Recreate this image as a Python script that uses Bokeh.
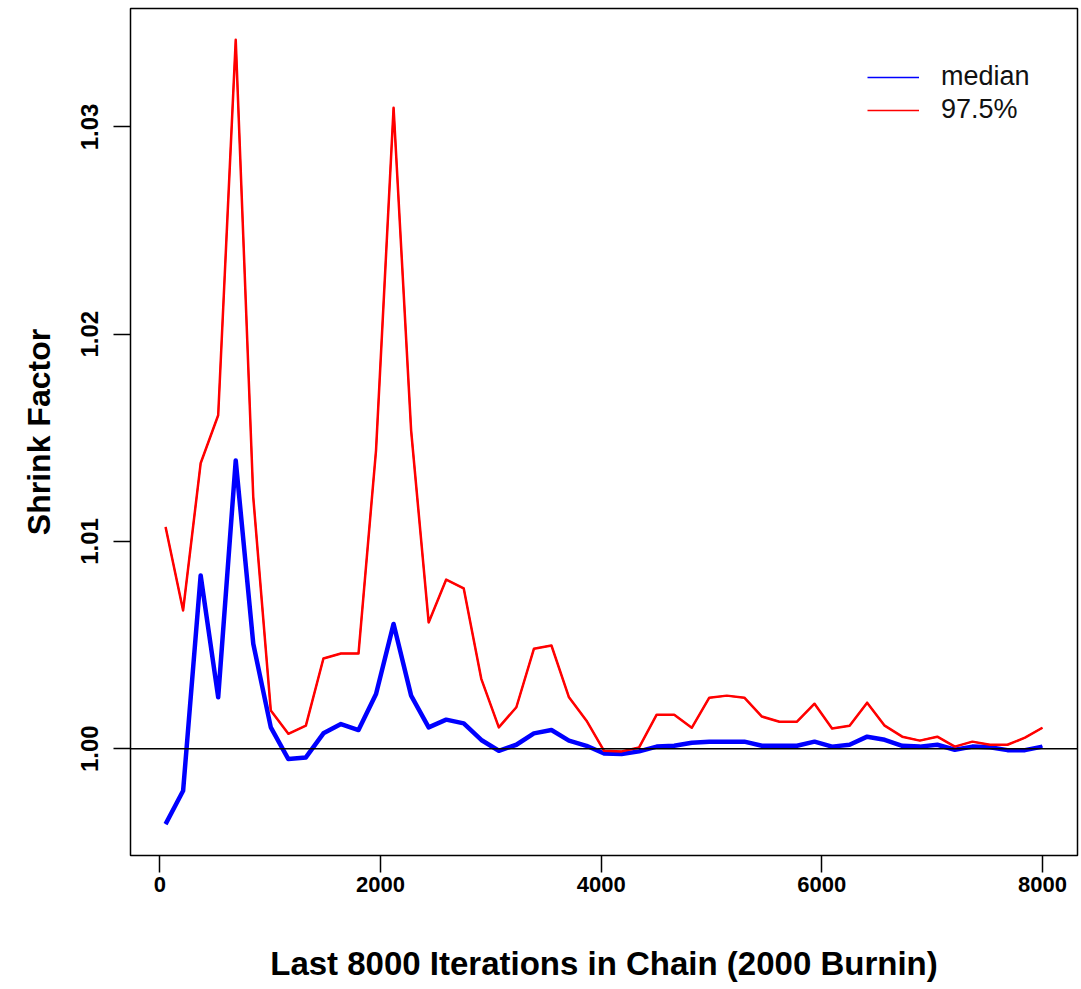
from bokeh.plotting import figure
from bokeh.models import Range1d, FixedTicker, PrintfTickFormatter, Span, Legend, LegendItem
from bokeh.embed import file_html
from bokeh.resources import INLINE

# ---- data ----
iterations = [51, 210, 369, 528, 687, 846, 1005, 1164, 1323, 1482, 1641, 1800, 1959,
              2118, 2277, 2436, 2595, 2754, 2913, 3072, 3231, 3390, 3549, 3708, 3867,
              4026, 4185, 4344, 4503, 4662, 4821, 4980, 5139, 5298, 5457, 5616, 5775,
              5934, 6093, 6252, 6411, 6570, 6729, 6888, 7047, 7206, 7365, 7524, 7683,
              7842, 8000]

median = [0.99636, 0.99797, 1.00836, 1.00248, 1.01391, 1.00506, 1.00103, 0.99950,
          0.99958, 1.00074, 1.00119, 1.00090, 1.00264, 1.00602, 1.00256, 1.00103,
          1.00140, 1.00122, 1.00042, 0.99990, 1.00019, 1.00074, 1.00090, 1.00039,
          1.00014, 0.99977, 0.99974, 0.99987, 1.00010, 1.00014, 1.00029, 1.00034,
          1.00034, 1.00034, 1.00014, 1.00014, 1.00014, 1.00034, 1.00010, 1.00019,
          1.00058, 1.00043, 1.00014, 1.00010, 1.00019, 0.99995, 1.00010, 1.00007,
          0.99993, 0.99993, 1.00010]

upper975 = [1.01070, 1.00667, 1.01377, 1.01609, 1.03420, 1.01213, 1.00184, 1.00072,
            1.00111, 1.00435, 1.00459, 1.00459, 1.01440, 1.03092, 1.01536, 1.00609,
            1.00816, 1.00773, 1.00337, 1.00103, 1.00200, 1.00482, 1.00498, 1.00248,
            1.00135, 0.99990, 0.99987, 1.00006, 1.00164, 1.00164, 1.00101, 1.00246,
            1.00256, 1.00246, 1.00155, 1.00130, 1.00130, 1.00217, 1.00097, 1.00111,
            1.00222, 1.00111, 1.00058, 1.00039, 1.00058, 1.00010, 1.00034, 1.00019,
            1.00019, 1.00053, 1.00101]

x_ticks = [0, 2000, 4000, 6000, 8000]
y_ticks = [1.00, 1.01, 1.02, 1.03]
series_labels = ["median", "97.5%"]
x_title = "Last 8000 Iterations in Chain (2000 Burnin)"
y_title = "Shrink Factor"

# R-style 4% range extension
xmin, xmax = min(iterations), max(iterations)
ymin, ymax = min(median + upper975), max(median + upper975)
xpad = 0.04 * (xmax - xmin)
ypad = 0.04 * (ymax - ymin)

FONT = "Liberation Sans"

p = figure(width=1081, height=989, output_backend="svg", toolbar_location=None,
           x_range=Range1d(xmin - xpad, xmax + xpad),
           y_range=Range1d(ymin - ypad, ymax + ypad),
           min_border_left=130, min_border_right=4, min_border_top=8,
           min_border_bottom=134)

p.background_fill_color = "white"
p.border_fill_color = "white"
p.xgrid.visible = False
p.ygrid.visible = False
p.outline_line_color = "black"
p.outline_line_width = 1.5

# thin copies (used as legend samples, hidden beneath the thick lines)
lb = p.line(iterations, median, line_color="#0000FF", line_width=1.5)
lr = p.line(iterations, upper975, line_color="#FF0000", line_width=1.5)

p.line(iterations, median, line_color="#0000FF", line_width=4.5, line_join="round")
p.line(iterations, upper975, line_color="#FF0000", line_width=2.5, line_join="round")

p.add_layout(Span(location=1.0, dimension="width", line_color="black", line_width=1.5))

# axes
for ax in (p.xaxis[0], p.yaxis[0]):
    ax.axis_line_color = None
    ax.major_tick_line_color = "black"
    ax.major_tick_line_width = 1.5
    ax.major_tick_out = 17
    ax.major_tick_in = 0
    ax.minor_tick_line_color = None
    ax.major_label_text_font = FONT
    ax.major_label_text_font_style = "bold"
    ax.major_label_text_color = "black"
    ax.axis_label_text_font = FONT
    ax.axis_label_text_font_style = "bold"
    ax.axis_label_text_color = "black"

p.xaxis.ticker = FixedTicker(ticks=x_ticks)
p.xaxis.formatter = PrintfTickFormatter(format="%d")
p.xaxis.major_label_text_font_size = "22px"
p.xaxis.major_label_standoff = 4
p.xaxis.axis_label = x_title
p.xaxis.axis_label_text_font_size = "33px"
p.xaxis.axis_label_standoff = 50

p.yaxis.ticker = FixedTicker(ticks=y_ticks)
p.yaxis.formatter = PrintfTickFormatter(format="%.2f")
p.yaxis.major_label_text_font_size = "24px"
p.yaxis.major_label_orientation = "vertical"
p.yaxis.major_label_standoff = 15
p.yaxis.axis_label = y_title
p.yaxis.axis_label_text_font_size = "32px"
p.yaxis.axis_label_standoff = 22

legend = Legend(items=[LegendItem(label=series_labels[0], renderers=[lb]),
                       LegendItem(label=series_labels[1], renderers=[lr])],
                location=(737, 730), border_line_alpha=0, background_fill_alpha=0,
                padding=0, spacing=2, glyph_width=52, glyph_height=30,
                label_standoff=22, label_text_font=FONT, label_text_font_size="27px",
                label_text_color="#111111", margin=0)
p.add_layout(legend)

open("out.html", "w").write(file_html(p, INLINE))
